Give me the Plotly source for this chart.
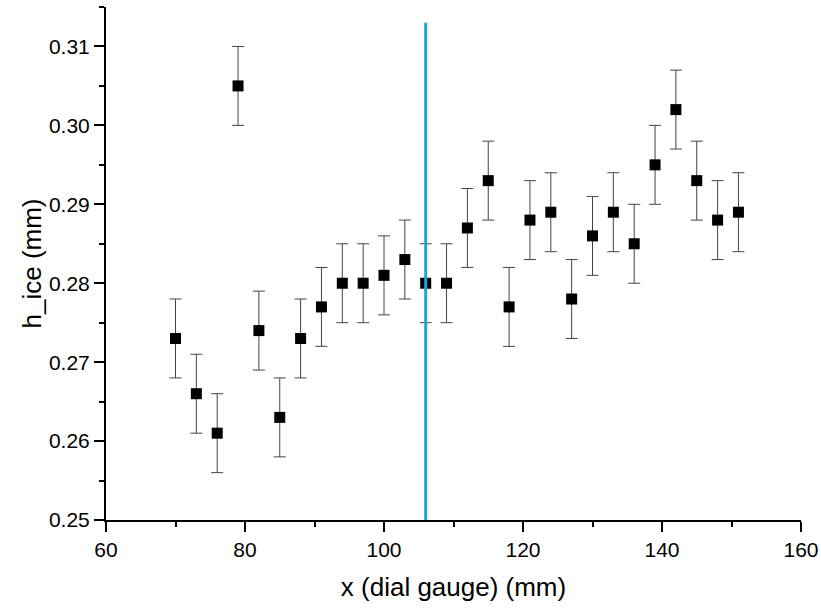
import plotly.graph_objects as go

x_vals = [70, 73, 76, 79, 82, 85, 88, 91, 94, 97, 100, 103, 106, 109,
          112, 115, 118, 121, 124, 127, 130, 133, 136, 139, 142, 145, 148, 151]
h_ice = [0.273, 0.266, 0.261, 0.305, 0.274, 0.263, 0.273, 0.277, 0.280, 0.280,
         0.281, 0.283, 0.280, 0.280, 0.287, 0.293, 0.277, 0.288, 0.289, 0.278,
         0.286, 0.289, 0.285, 0.295, 0.302, 0.293, 0.288, 0.289]
h_err = [0.005] * len(x_vals)

line_x = [106, 106]
line_y = [0.25, 0.313]

fig = go.Figure()
fig.add_trace(go.Scatter(
    x=x_vals, y=h_ice, mode="markers",
    marker=dict(symbol="square", size=11, color="black"),
    error_y=dict(type="data", array=h_err, visible=True, color="#444444",
                 thickness=1, width=6),
    showlegend=False,
))
fig.add_trace(go.Scatter(
    x=line_x, y=line_y, mode="lines",
    line=dict(color="#1AA7E0", width=3),
    showlegend=False,
))

tick_font = dict(family="Liberation Sans, Arial", size=21, color="black")
title_font = dict(family="Liberation Sans, Arial", size=26, color="black")
fig.update_layout(
    width=821, height=608,
    margin=dict(l=106, r=20, t=7, b=88, autoexpand=False),
    plot_bgcolor="white", paper_bgcolor="white",
    font=tick_font,
    xaxis=dict(
        range=[60, 160], dtick=20, tick0=60, automargin=False,
        showgrid=False, zeroline=False,
        showline=True, linecolor="black", linewidth=2,
        ticks="outside", ticklen=10, tickwidth=2, tickcolor="black",
        minor=dict(ticks="outside", ticklen=5, tickwidth=2, tickcolor="black", dtick=10, tick0=60),
        tickfont=tick_font, ticklabeloverflow="allow",
        title=dict(text="x (dial gauge) (mm)", font=title_font, standoff=18),
    ),
    yaxis=dict(
        range=[0.25, 0.315], dtick=0.01, tick0=0.25, tickformat=".2f", automargin=False,
        showgrid=False, zeroline=False,
        showline=True, linecolor="black", linewidth=2,
        ticks="outside", ticklen=10, tickwidth=2, tickcolor="black",
        minor=dict(ticks="outside", ticklen=5, tickwidth=2, tickcolor="black", dtick=0.005, tick0=0.25),
        tickfont=tick_font, ticklabeloverflow="allow",
        title=dict(text="h_ice (mm)", font=title_font, standoff=0),
    ),
)

fig.write_html("out.html")
